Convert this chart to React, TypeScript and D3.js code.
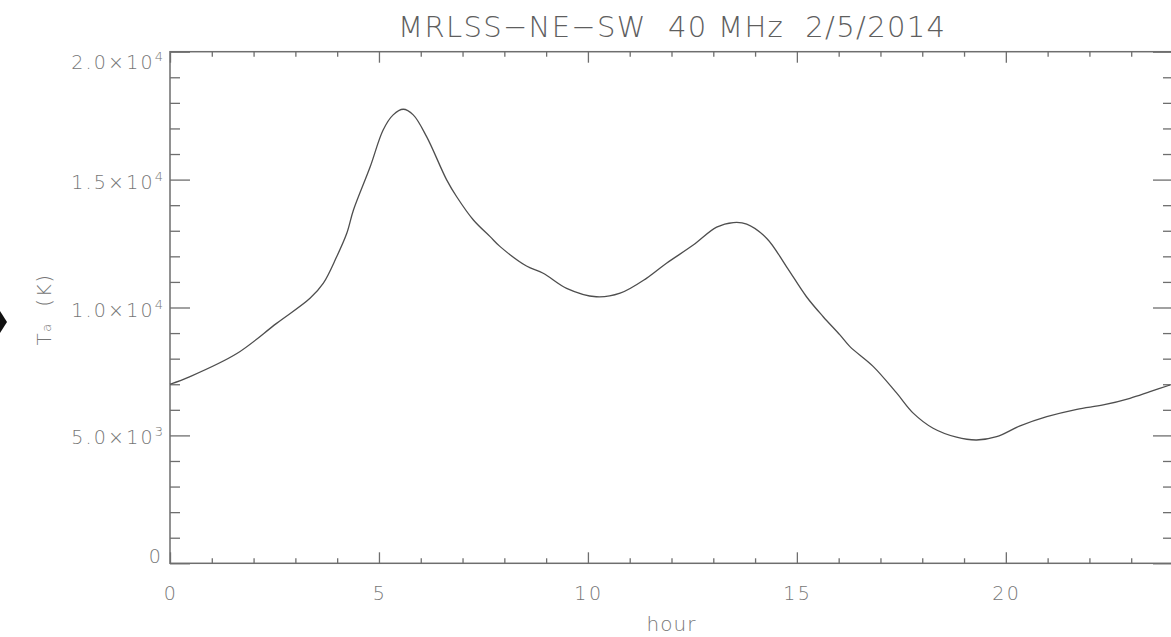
import React, { useRef, useEffect } from 'react';
import * as d3 from 'd3';

const hours = [
  0, 0.48, 1.6, 2.55, 3.35, 3.67, 3.99, 4.23, 4.39, 4.79, 5.1, 5.34, 5.58, 5.82, 6.14, 6.62, 6.86,
  7.26, 7.66, 7.9, 8.53, 8.93, 9.49, 10.2, 10.77, 11.4, 11.88, 12.52, 13.08, 13.48, 13.8, 14.28,
  14.75, 15.23, 15.63, 16.03, 16.27, 16.83, 17.39, 17.79, 18.26, 18.82, 19.3, 19.78, 20.34, 20.98,
  21.7, 22.33, 22.97, 23.45, 23.93
];
const temps = [
  7000, 7300, 8200, 9380, 10360, 10950, 11990, 12900, 13810, 15500, 16940, 17530, 17750, 17530,
  16680, 14990, 14330, 13420, 12770, 12380, 11620, 11340, 10750, 10420, 10560, 11140, 11730, 12440,
  13140, 13320, 13260, 12700, 11600, 10420, 9640, 8930, 8470, 7690, 6650, 5860, 5280, 4930, 4820,
  4950, 5370, 5730, 6020, 6190, 6450, 6710, 6970
];

const xMajor = [0, 5, 10, 15, 20];
const xMinor = d3.range(0, 25, 1);
const yMajor = [0, 5000, 10000, 15000, 20000];
const yMinor = d3.range(0, 20001, 1000);
const yLabels = [
  { base: '0', exp: '' },
  { base: '5.0×10', exp: '3' },
  { base: '1.0×10', exp: '4' },
  { base: '1.5×10', exp: '4' },
  { base: '2.0×10', exp: '4' }
];
const title = 'MRLSS−NE−SW  40 MHz  2/5/2014';

const W = 1171;
const H = 637;
const ink = '#6e6e6e';
const textInk = '#767676';
const font = '"DejaVu Sans", sans-serif';

const App: React.FC = () => {
  const ref = useRef<SVGSVGElement | null>(null);

  useEffect(() => {
    if (!ref.current) return;
    const svg = d3.select(ref.current);
    svg.selectAll('*').remove();

    const left = 170, right = 1173, top = 51.7, bottom = 563.3;

    const x = d3.scaleLinear().domain([0, 24]).range([left, right]);
    const y = d3.scaleLinear().domain([0, 20000]).range([bottom, top]);

    svg.append('rect').attr('width', W).attr('height', H).attr('fill', '#fff');

    // frame
    svg.append('rect')
      .attr('x', left).attr('y', top)
      .attr('width', right - left).attr('height', bottom - top)
      .attr('fill', 'none').attr('stroke', ink).attr('stroke-width', 1.5);

    const styleAxis = (g: d3.Selection<SVGGElement, unknown, null, undefined>) => {
      g.select('.domain').remove();
      g.selectAll('line').attr('stroke', ink).attr('stroke-width', 1.3);
      g.selectAll('text').remove();
    };

    // x ticks, bottom & top (inward)
    const xMinorOnly = xMinor.filter(v => !xMajor.includes(v));
    svg.append('g').attr('transform', `translate(0,${bottom})`)
      .call(d3.axisTop(x).tickValues(xMajor).tickSize(11).tickSizeOuter(0)).call(styleAxis);
    svg.append('g').attr('transform', `translate(0,${bottom})`)
      .call(d3.axisTop(x).tickValues(xMinorOnly).tickSize(5).tickSizeOuter(0)).call(styleAxis);
    svg.append('g').attr('transform', `translate(0,${top})`)
      .call(d3.axisBottom(x).tickValues(xMajor).tickSize(11).tickSizeOuter(0)).call(styleAxis);
    svg.append('g').attr('transform', `translate(0,${top})`)
      .call(d3.axisBottom(x).tickValues(xMinorOnly).tickSize(5).tickSizeOuter(0)).call(styleAxis);

    // y ticks, left & right (inward)
    const yMinorOnly = yMinor.filter(v => !yMajor.includes(v));
    svg.append('g').attr('transform', `translate(${left},0)`)
      .call(d3.axisRight(y).tickValues(yMajor).tickSize(20).tickSizeOuter(0)).call(styleAxis);
    svg.append('g').attr('transform', `translate(${left},0)`)
      .call(d3.axisRight(y).tickValues(yMinorOnly).tickSize(10).tickSizeOuter(0)).call(styleAxis);
    svg.append('g').attr('transform', `translate(${right},0)`)
      .call(d3.axisLeft(y).tickValues(yMajor).tickSize(20).tickSizeOuter(0)).call(styleAxis);
    svg.append('g').attr('transform', `translate(${right},0)`)
      .call(d3.axisLeft(y).tickValues(yMinorOnly).tickSize(10).tickSizeOuter(0)).call(styleAxis);

    // x labels
    svg.append('g').selectAll('text').data(xMajor).join('text')
      .attr('x', d => x(d) + 1).attr('y', bottom + 37)
      .attr('text-anchor', 'middle')
      .attr('font-family', font).attr('font-size', 19).attr('font-weight', 300)
      .attr('letter-spacing', 2.5)
      .attr('fill', textInk)
      .text(d => String(d));

    // y labels
    const yl = svg.append('g').selectAll('text').data(yMajor).join('text')
      .attr('x', left - 7)
      .attr('y', (d, i) => y(d) + (i === 0 ? 0 : i === yMajor.length - 1 ? 17 : 9))
      .attr('text-anchor', 'end')
      .attr('font-family', font).attr('font-size', 19).attr('font-weight', 300)
      .attr('letter-spacing', 2.2)
      .attr('fill', textInk);
    yl.append('tspan').text((d, i) => yLabels[i].base);
    yl.append('tspan').attr('dy', -8).attr('font-size', 13).attr('letter-spacing', 0)
      .text((d, i) => yLabels[i].exp);

    // title
    svg.append('text')
      .attr('x', (left + right) / 2).attr('y', 37)
      .attr('text-anchor', 'middle')
      .attr('font-family', font).attr('font-size', 29).attr('font-weight', 300)
      .attr('textLength', 547).attr('lengthAdjust', 'spacing')
      .attr('fill', '#5e5e5e')
      .style('white-space', 'pre')
      .text(title);

    // axis titles
    svg.append('text')
      .attr('x', (left + right) / 2).attr('y', 631)
      .attr('text-anchor', 'middle')
      .attr('font-family', font).attr('font-size', 20).attr('font-weight', 300)
      .attr('letter-spacing', 1)
      .attr('fill', textInk)
      .text('hour');

    const yt = svg.append('text')
      .attr('transform', `translate(51,${(top + bottom) / 2 + 2}) rotate(-90)`)
      .attr('text-anchor', 'middle')
      .attr('font-family', font).attr('font-size', 20).attr('font-weight', 300)
      .attr('letter-spacing', 1.5)
      .attr('fill', textInk)
      .style('white-space', 'pre');
    yt.append('tspan').text('T');
    yt.append('tspan').attr('font-size', 13).text('a');
    yt.append('tspan').text('  (K)');

    // curve
    const pts = hours.map((h, i) => ({ h, t: temps[i] }));
    const line = d3.line<{ h: number; t: number }>()
      .x(d => x(d.h)).y(d => y(d.t))
      .curve(d3.curveCatmullRom.alpha(0.5));
    svg.append('path').datum(pts)
      .attr('fill', 'none').attr('stroke', '#4e4e4e').attr('stroke-width', 1.3)
      .attr('d', line);

    // marker at left edge
    svg.append('path').attr('d', 'M0,311 L7,322 L0,333 Z').attr('fill', '#111');
  }, []);

  return (
    <svg
      ref={ref}
      width={W}
      height={H}
      style={{ position: 'absolute', left: 0, top: 0, display: 'block' }}
    />
  );
};

export default App;
